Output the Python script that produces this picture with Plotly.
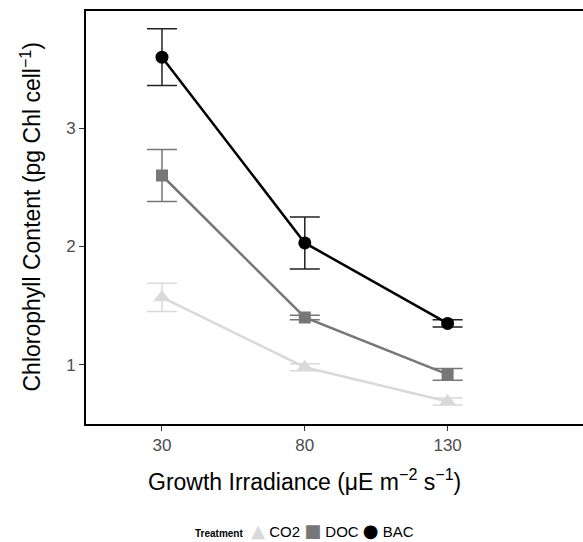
import plotly.graph_objects as go

irradiance = [30, 80, 130]
treatments = ["CO2", "DOC", "BAC"]
co2_mean = [1.57, 0.98, 0.69]
co2_err = [0.12, 0.03, 0.03]
doc_mean = [2.60, 1.40, 0.92]
doc_err = [0.22, 0.02, 0.05]
bac_mean = [3.60, 2.03, 1.35]
bac_err = [0.24, 0.22, 0.03]

colors = ["#d9d9d9", "#777777", "#000000"]
err_colors = ["#d9d9d9", "#777777", "#222222"]
symbols = ["triangle-up", "square", "circle"]
glyphs = ["▲", "■", "●"]
sizes = [15, 12, 13]
means = [co2_mean, doc_mean, bac_mean]
errs = [co2_err, doc_err, bac_err]

W, H = 583, 542
L, R, T, B = 86, 0, 11, 118
PW, PH = W - L - R, H - T - B

fig = go.Figure()
for name, m, e, c, ec, s, sz in zip(treatments, means, errs, colors, err_colors, symbols, sizes):
    fig.add_trace(go.Scatter(
        x=irradiance, y=m, name=name, mode="lines+markers", showlegend=False,
        line=dict(color=c, width=2.5),
        marker=dict(symbol=s, size=sz, color=c),
        error_y=dict(type="data", array=e, visible=True, color=ec, thickness=1.5, width=15),
    ))

legend_text = "<span style='font-size:10px'><b>Treatment</b></span>  " + "".join(
    f"<span style='color:{c};font-family:DejaVu Sans;font-size:18px'>{g}</span> {n} "
    for n, c, g in zip(treatments, colors, glyphs)
).strip()

fig.update_layout(
    width=W, height=H,
    margin=dict(l=L, r=R, t=T, b=B, autoexpand=False),
    paper_bgcolor="white", plot_bgcolor="white",
    font=dict(family="Liberation Sans, Arial, sans-serif", color="black"),
    showlegend=False,
    xaxis=dict(
        range=[3.4, 177.4], tickvals=irradiance, ticktext=[str(v) for v in irradiance],
        showgrid=False, zeroline=False, automargin=False,
        showline=True, linecolor="black", linewidth=2, mirror=True,
        ticks="outside", ticklen=5, tickcolor="#333333", tickwidth=1,
        tickfont=dict(size=17, color="#4d4d4d"),
    ),
    yaxis=dict(
        range=[0.5, 3.99], tickvals=[1, 2, 3], ticktext=["1", "2", "3"],
        showgrid=False, zeroline=False, automargin=False,
        showline=True, linecolor="black", linewidth=2, mirror=False,
        ticks="outside", ticklen=5, tickcolor="#333333", tickwidth=1,
        tickfont=dict(size=17, color="#4d4d4d"),
    ),
    annotations=[
        dict(text="Growth Irradiance (μE m<sup>−2</sup> s<sup>−1</sup>)",
             xref="paper", yref="paper",
             x=(304 - L) / PW, y=-(480 - (H - B)) / PH,
             xanchor="center", yanchor="middle", showarrow=False,
             font=dict(size=23, color="black")),
        dict(text="Chlorophyll Content (pg Chl cell<sup>−1</sup>)",
             xref="paper", yref="paper",
             x=-(L - 30) / PW, y=0.5, textangle=-90,
             xanchor="center", yanchor="middle", showarrow=False,
             font=dict(size=23, color="black")),
        dict(text=legend_text,
             xref="paper", yref="paper",
             x=(304 - L) / PW, y=-(530 - (H - B)) / PH,
             xanchor="center", yanchor="middle", showarrow=False,
             font=dict(size=15, color="black")),
    ],
)

fig.write_html("out.html", config={"displayModeBar": False},
               post_script="document.body.style.margin='0';document.body.style.padding='0';")
